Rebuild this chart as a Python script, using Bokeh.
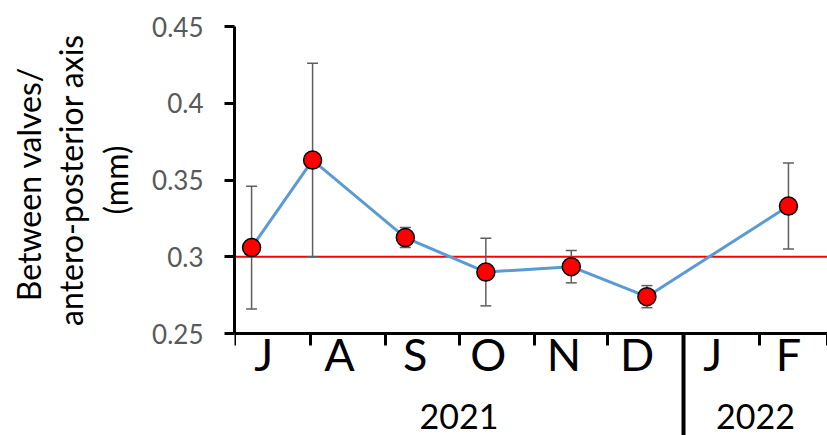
import math
import pandas as pd
from bokeh.plotting import figure
from bokeh.layouts import row
from bokeh.models import (ColumnDataSource, Range1d, FixedTicker, LinearAxis,
                          Span, Whisker, TeeHead)
from bokeh.core.properties import value
from bokeh.embed import file_html
from bokeh.resources import INLINE

# ---------------- data ----------------
sample_dates = ["2021-07-08", "2021-08-02", "2021-09-09", "2021-10-12",
                "2021-11-16", "2021-12-17", "2022-02-13"]
mean_values = [0.306, 0.363, 0.3125, 0.290, 0.2935, 0.274, 0.333]
sd_values = [0.040, 0.063, 0.0065, 0.022, 0.0105, 0.0072, 0.028]

month_starts = ["2021-07-01", "2021-08-01", "2021-09-01", "2021-10-01",
                "2021-11-01", "2021-12-01", "2022-01-01", "2022-02-01",
                "2022-03-01"]
month_labels = ["J", "A", "S", "O", "N", "D", "J", "F"]
year_labels = ["2021", "2022"]
year_bounds = ["2021-07-01", "2022-01-01", "2022-03-01"]

reference_value = 0.3
y_ticks = [0.25, 0.3, 0.35, 0.4, 0.45]
y_tick_labels = ["0.25", "0.3", "0.35", "0.4", "0.45"]
y_title_lines = ["Between  valves/", "antero-posterior axis", "(mm)"]

# ---------------- derived ----------------
origin = pd.Timestamp(month_starts[0])
def days(d):
    return int((pd.Timestamp(d) - origin).days)

x_days = [days(d) for d in sample_dates]
upper = [m + s for m, s in zip(mean_values, sd_values)]
lower = [m - s for m, s in zip(mean_values, sd_values)]
src = ColumnDataSource(dict(x=x_days, y=mean_values, upper=upper, lower=lower))

start_days = [days(d) for d in month_starts]
label_days = [s + 12 for s in start_days[:-1]]
year_days = [days(d) for d in year_bounds]
year_centers = [(a + b) / 2 for a, b in zip(year_days[:-1], year_days[1:])]
separator_day = year_days[1]

# ---------------- layout ----------------
W, H = 827, 435
TITLE_W = 140
top_border = 26
left_border = 234
frame_h = H - top_border
axis_px = 307
px_per_unit = axis_px / (y_ticks[-1] - y_ticks[0])
y_start = y_ticks[-1] - frame_h / px_per_unit
y_range = Range1d(y_start, y_ticks[-1])

FONT = "Lato"

# --- narrow figure holding the rotated three-line y-axis title ---
tf = figure(width=TITLE_W, height=H, output_backend="svg", toolbar_location=None,
            x_range=Range1d(0, TITLE_W), y_range=y_range,
            x_axis_type=None, y_axis_type=None,
            min_border_left=0, min_border_right=0, min_border_top=top_border,
            min_border_bottom=0, outline_line_color=None,
            background_fill_color="white", border_fill_color="white")
tf.grid.visible = False
title_line_x = [28, 70, 115]
tf.text(x=title_line_x, y=[(y_ticks[0] + y_ticks[-1]) / 2] * len(y_title_lines),
        text=y_title_lines, angle=math.pi / 2, text_font=value(FONT),
        text_font_size="32px", text_align="center", text_baseline="middle",
        text_color="black")

# --- main chart ---
p = figure(width=W - TITLE_W, height=H, output_backend="svg", toolbar_location=None,
           x_range=Range1d(start_days[0], start_days[-1]), y_range=y_range,
           x_axis_type=None, min_border_left=left_border - TITLE_W,
           min_border_top=top_border, min_border_bottom=0, min_border_right=0,
           outline_line_color=None,
           background_fill_color="white", border_fill_color="white")
p.grid.visible = False

ya = p.yaxis[0]
ya.ticker = FixedTicker(ticks=y_ticks)
ya.major_label_overrides = {t: l for t, l in zip(y_ticks, y_tick_labels)}
ya.bounds = (y_ticks[0], y_ticks[-1])
ya.axis_line_width = 3
ya.axis_line_color = "black"
ya.major_tick_line_width = 3
ya.major_tick_line_color = "black"
ya.major_tick_out = 10
ya.major_tick_in = 0
ya.minor_tick_out = 0
ya.minor_tick_in = 0
ya.major_label_text_font = FONT
ya.major_label_text_font_size = "26px"
ya.major_label_text_color = "#595959"
ya.major_label_standoff = 21

xa = LinearAxis(fixed_location=y_ticks[0],
                ticker=FixedTicker(ticks=label_days, minor_ticks=start_days),
                major_label_overrides={d: l for d, l in zip(label_days, month_labels)},
                axis_line_width=3, axis_line_color="black",
                major_tick_out=0, major_tick_in=0,
                minor_tick_out=12, minor_tick_in=0,
                minor_tick_line_width=3, minor_tick_line_color="black",
                major_label_text_font=FONT, major_label_text_font_size="45px",
                major_label_text_color="black", major_label_standoff=-19)
p.add_layout(xa, "below")

p.add_layout(Span(location=reference_value, dimension="width",
                  line_color="red", line_width=2, level="underlay"))

whisk = Whisker(source=src, base="x", upper="upper", lower="lower",
                line_color="#5f5f5f", line_width=1.5, level="underlay",
                upper_head=TeeHead(size=11, line_color="#5f5f5f", line_width=1.5),
                lower_head=TeeHead(size=11, line_color="#5f5f5f", line_width=1.5))
p.add_layout(whisk)

p.line("x", "y", source=src, line_color="#5B9BD5", line_width=3)
p.scatter("x", "y", source=src, size=18, fill_color="red",
          line_color="black", line_width=1.5)

p.segment(x0=[separator_day], y0=[y_ticks[0]], x1=[separator_day],
          y1=[y_start], line_color="black", line_width=4)

p.text(x=year_centers, y=[y_ticks[0]] * len(year_centers), text=year_labels,
       text_font=value(FONT), text_font_size="34px", text_align="center",
       text_baseline="middle", y_offset=83, text_color="black")

layout = row(tf, p, spacing=0)
open("out.html", "w").write(file_html(layout, INLINE))
